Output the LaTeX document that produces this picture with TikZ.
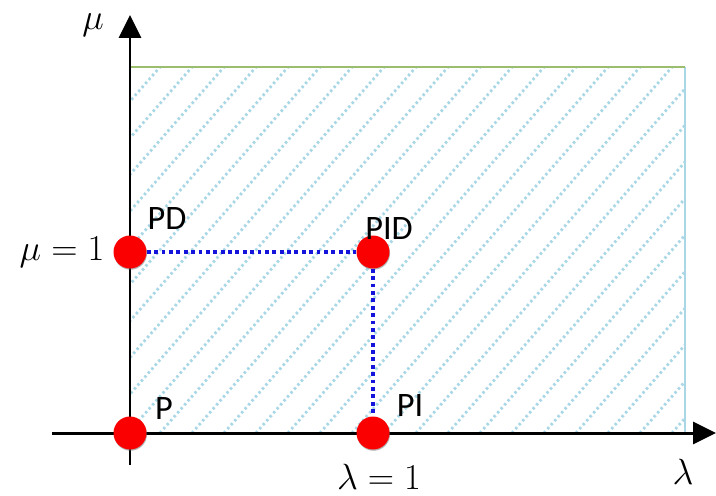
\documentclass[tikz,border=0pt]{standalone}
\usepackage{fontspec}
\setmainfont{Carlito}
\usepackage{tikz}
\usetikzlibrary{arrows.meta,shadows}
\definecolor{HatchBlue}{RGB}{170,215,230}
\definecolor{EdgeGreen}{RGB}{155,190,110}
\definecolor{PtRed}{RGB}{250,0,0}
\definecolor{LinkBlue}{RGB}{20,20,220}

\begin{document}
\begin{tikzpicture}[x=0.02cm,y=-0.02cm,
  pt/.style={circle,fill=PtRed,minimum size=0.66cm,inner sep=0pt,
             drop shadow={shadow xshift=0.3pt,shadow yshift=-0.7pt,fill=black!60}},
  lbl/.style={font=\fontsize{19.5}{22}\selectfont,inner sep=0pt},
  mlbl/.style={font=\fontsize{22}{25}\selectfont,inner sep=0pt},
  axis/.style={line width=1.7pt,-{Triangle[length=13pt,width=12.5pt]}},
  link/.style={LinkBlue,line width=2.3pt,dash pattern=on 2.2pt off 2pt},
]
\useasboundingbox (0,0) rectangle (716,495);
% hatched region
\begin{scope}
  \clip (130,67) rectangle (685,433);
  \foreach \k in {0,...,32}
    \draw[HatchBlue,line width=1.6pt,dash pattern=on 1.4pt off 1.6pt]
      ({-320+32*\k},433) -- ++(320,-366);
\end{scope}
\draw[HatchBlue,line width=0.7pt] (685,67) -- (685,433);
\draw[EdgeGreen,line width=0.9pt] (130,67) -- (685,67);
% axes
\coordinate (xs) at (52,433);
\coordinate (xe) at (716,433);
\coordinate (ys) at (130,465);
\coordinate (ye) at (130,15);
\draw[axis] (xs) -- (xe);
\draw[axis] (ys) -- (ye);
\node[mlbl] (mu) at (93,25) {$\mu$};
\node[mlbl] (la) at (683,472) {$\lambda$};
% points
\node[pt] (p)   at (130,433) {};
\node[pt] (pi)  at (373,433) {};
\node[pt] (pd)  at (130,252) {};
\node[pt] (pid) at (373,252) {};
\draw[link] (pd) -- (pid);
\draw[link] (pid) -- (pi);
\node[lbl] (lp)   at (164,408) {P};
\node[lbl] (lpi)  at (410,405) {PI};
\node[lbl] (lpd)  at (167,218) {PD};
\node[lbl] (lpid) at (389,228) {PID};
\node[mlbl] (mu1) at (62,252) {$\mu=1$};
\node[mlbl] (la1) at (379,477) {$\lambda=1$};
\end{tikzpicture}
\end{document}
